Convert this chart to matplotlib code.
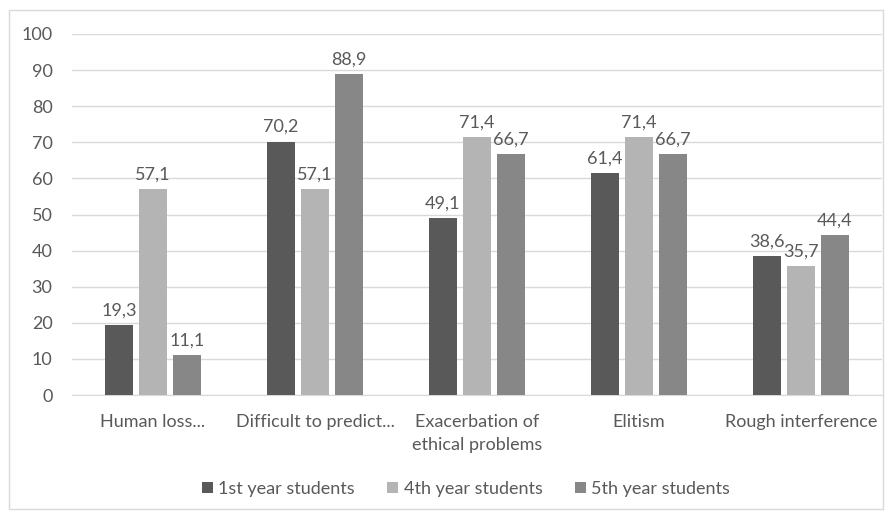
import numpy as np
import matplotlib.pyplot as plt
from matplotlib.patches import Rectangle

categories = ["Human loss...", "Difficult to predict...", "Exacerbation of\nethical problems",
              "Elitism", "Rough interference"]
series_names = ["1st year students", "4th year students", "5th year students"]
first_year = [19.3, 70.2, 49.1, 61.4, 38.6]
fourth_year = [57.1, 57.1, 71.4, 71.4, 35.7]
fifth_year = [11.1, 88.9, 66.7, 66.7, 44.4]
colors = ["#595959", "#b4b4b4", "#878787"]

plt.rcParams["font.family"] = ["Lato", "DejaVu Sans"]
text_color = "#595959"
fs = 13

fig = plt.figure(figsize=(8.92, 5.12), dpi=100)
fig.patches.append(Rectangle((9 / 892, 3 / 512), 874 / 892, 499 / 512, transform=fig.transFigure,
                             fill=False, edgecolor="#d9d9d9", linewidth=1))
ax = fig.add_axes([72 / 892, 1 - 395 / 512, 810 / 892, 361 / 512])

x = np.arange(len(categories))
w = 0.17
step = 0.21
for i, (vals, name) in enumerate(zip([first_year, fourth_year, fifth_year], series_names)):
    bars = ax.bar(x + (i - 1) * step, vals, w, color=colors[i], label=name, zorder=3)
    for b, v in zip(bars, vals):
        ax.text(b.get_x() + b.get_width() / 2, v + 1.8, f"{v:.1f}".replace(".", ","),
                ha="center", va="bottom", fontsize=fs, color=text_color)

ax.set_ylim(0, 100)
ax.set_xlim(-0.5, len(categories) - 0.5)
ax.set_yticks(range(0, 101, 10))
ax.set_xticks(x)
ax.set_xticklabels(categories, fontsize=fs, color=text_color, linespacing=1.5)
ax.tick_params(axis="y", labelsize=fs, labelcolor=text_color, length=0, pad=14)
ax.tick_params(axis="x", length=0, pad=14)
ax.grid(axis="y", color="#d9d9d9", linewidth=1, zorder=0)
for s in ["top", "right", "left"]:
    ax.spines[s].set_visible(False)
ax.spines["bottom"].set_color("#d9d9d9")

fig.legend(loc="center", bbox_to_anchor=(466 / 892, 1 - 489 / 512), ncol=3, frameon=False,
           fontsize=fs, labelcolor=text_color, handlelength=0.6, handleheight=0.6,
           handletextpad=0.3, columnspacing=1.8)

fig.savefig("out.png", dpi=100)
